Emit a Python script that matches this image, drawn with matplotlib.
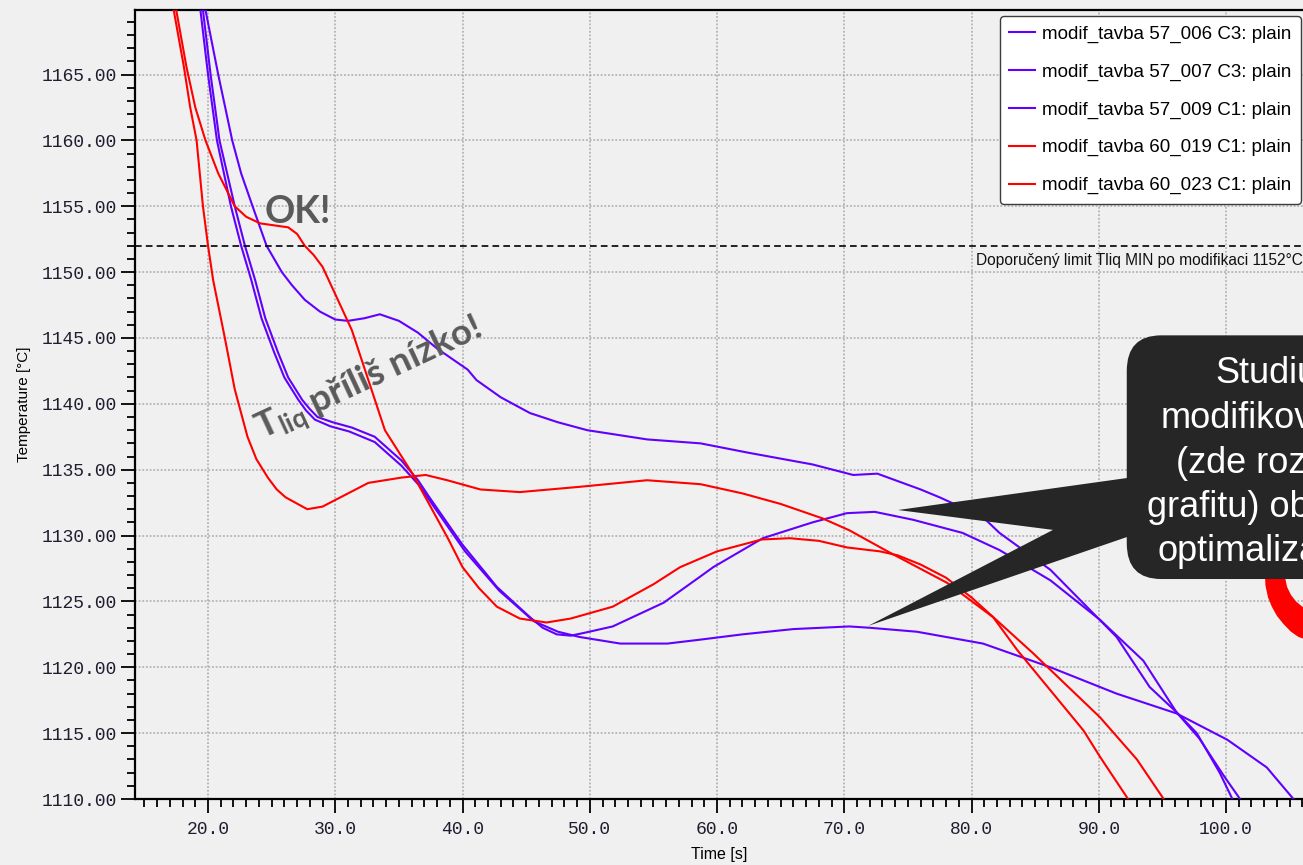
import matplotlib
matplotlib.use("Agg")
import matplotlib.pyplot as plt
from matplotlib.patches import FancyBboxPatch, Polygon
from matplotlib.ticker import MultipleLocator, FormatStrFormatter

# --- data (time [s], temperature [degC]) ---
labels = [
    "modif_tavba 57_006 C3: plain",
    "modif_tavba 57_007 C3: plain",
    "modif_tavba 57_009 C1: plain",
    "modif_tavba 60_019 C1: plain",
    "modif_tavba 60_023 C1: plain",
]
colors = ["#6000ff", "#6000ff", "#6000ff", "#ff0000", "#ff0000"]

t_a = [19.5, 19.8, 20.8, 21.9, 22.6, 23.5, 24.6, 25.8, 26.6, 27.6, 28.8, 30.0,
       31.0, 32.3, 33.5, 35.0, 36.5, 38.0, 40.4, 41.1, 43.0, 45.3, 47.5, 49.8,
       54.5, 58.7, 62.4, 67.5, 70.7, 72.6, 76.0, 77.5, 80.9, 82.2, 86.2, 91.4,
       94.0, 96.1, 97.7, 99.5, 100.5, 101.3]
T_a = [1171.4, 1169.9, 1165.0, 1160.0, 1157.5, 1155.0, 1152.0, 1150.0, 1149.0,
       1147.9, 1147.0, 1146.4, 1146.3, 1146.5, 1146.8, 1146.3, 1145.4, 1144.2,
       1142.6, 1141.8, 1140.5, 1139.3, 1138.6, 1138.0, 1137.3, 1137.0, 1136.3,
       1135.4, 1134.6, 1134.7, 1133.5, 1132.9, 1131.4, 1130.2, 1127.4, 1122.3,
       1118.5, 1116.6, 1115.0, 1112.0, 1110.0, 1108.8]

t_b = [19.2, 19.6, 20.2, 20.9, 22.1, 22.9, 23.7, 24.5, 25.5, 26.3, 27.4, 28.0,
       28.6, 29.8, 31.3, 33.1, 35.2, 36.5, 37.4, 39.2, 40.0, 42.7, 45.3, 46.3,
       47.4, 48.5, 49.5, 51.8, 55.8, 58.7, 59.7, 63.6, 67.5, 70.2, 72.4, 75.4,
       79.3, 82.2, 86.2, 90.1, 93.5, 96.1, 97.9, 99.8, 101.1, 101.7]
T_b = [1171.5, 1169.9, 1165.0, 1160.0, 1155.0, 1152.0, 1149.4, 1146.5, 1143.9,
       1142.0, 1140.3, 1139.6, 1139.0, 1138.6, 1138.2, 1137.5, 1135.7, 1134.2,
       1132.9, 1130.4, 1129.3, 1126.1, 1123.8, 1123.0, 1122.5, 1122.4, 1122.6,
       1123.1, 1124.9, 1126.9, 1127.6, 1129.8, 1131.0, 1131.7, 1131.8, 1131.2,
       1130.2, 1128.9, 1126.6, 1123.6, 1120.5, 1116.6, 1114.6, 1111.8, 1110.0,
       1108.8]

t_c = [19.0, 19.4, 20.0, 20.7, 21.8, 22.6, 23.4, 24.2, 25.2, 26.0, 27.1, 27.7,
       28.4, 29.6, 31.1, 33.1, 35.2, 36.6, 37.6, 40.2, 42.9, 45.6, 47.5, 49.2,
       52.4, 56.1, 58.7, 62.0, 66.0, 70.4, 72.0, 75.7, 80.9, 86.2, 91.4, 96.1,
       100.1, 103.2, 105.3, 106.2]
T_c = [1171.5, 1169.9, 1165.0, 1160.0, 1155.0, 1152.0, 1149.4, 1146.5, 1143.9,
       1142.0, 1140.3, 1139.5, 1138.8, 1138.3, 1137.9, 1137.1, 1135.3, 1133.8,
       1132.4, 1128.8, 1125.8, 1123.5, 1122.7, 1122.3, 1121.8, 1121.8, 1122.1,
       1122.5, 1122.9, 1123.1, 1123.0, 1122.7, 1121.8, 1120.0, 1118.0, 1116.5,
       1114.5, 1112.4, 1110.0, 1108.8]

t_d = [16.9, 17.3, 18.1, 18.6, 19.1, 19.6, 20.0, 20.4, 21.3, 22.1, 23.1, 23.8,
       24.7, 25.4, 26.1, 27.8, 29.0, 30.0, 32.6, 35.2, 37.1, 38.8, 41.4, 44.5,
       49.2, 54.5, 58.7, 62.0, 65.0, 68.3, 70.4, 73.4, 78.1, 81.7, 83.6, 88.8,
       90.1, 92.3, 93.0]
T_d = [1172.0, 1169.9, 1165.6, 1162.5, 1160.0, 1155.0, 1152.0, 1149.4, 1145.1,
       1141.1, 1137.5, 1135.8, 1134.4, 1133.5, 1132.9, 1132.0, 1132.2, 1132.7,
       1134.0, 1134.4, 1134.6, 1134.2, 1133.5, 1133.3, 1133.7, 1134.2, 1133.9,
       1133.2, 1132.4, 1131.3, 1130.4, 1128.8, 1126.4, 1123.8, 1121.3, 1115.2,
       1113.2, 1110.0, 1109.0]

t_e = [17.1, 17.5, 18.3, 19.0, 19.8, 20.8, 22.1, 23.0, 24.1, 25.2, 26.3, 27.0,
       27.6, 28.3, 29.0, 30.2, 31.3, 32.6, 33.9, 36.0, 37.2, 38.9, 40.0, 41.3,
       42.7, 44.5, 46.6, 48.5, 51.8, 55.0, 57.1, 60.0, 63.5, 65.7, 68.0, 70.2,
       72.8, 74.2, 76.0, 78.0, 80.0, 84.8, 90.1, 93.0, 95.1, 95.8]
T_e = [1172.0, 1169.9, 1165.6, 1162.5, 1160.0, 1157.5, 1155.0, 1154.2, 1153.7,
       1153.55, 1153.4, 1152.9, 1152.0, 1151.3, 1150.4, 1147.9, 1145.6, 1141.8,
       1138.0, 1134.8, 1132.7, 1129.7, 1127.6, 1126.0, 1124.6, 1123.7, 1123.4,
       1123.7, 1124.6, 1126.3, 1127.6, 1128.8, 1129.7, 1129.8, 1129.6, 1129.1,
       1128.8, 1128.5, 1127.8, 1126.8, 1125.3, 1121.1, 1116.2, 1113.0, 1110.0,
       1109.0]

series_t = [t_a, t_b, t_c, t_d, t_e]
series_T = [T_a, T_b, T_c, T_d, T_e]

limit_T = 1152.0
limit_label = "Doporučený limit Tliq MIN po modifikaci 1152°C"
callout_lines = ["Studium", "modifikovaných", "(zde rozdílné",
                 "grafitu) obecně", "optimalizace"]

BG = "#f0f0f0"
GREY_TXT = "#5a5a5a"

fig = plt.figure(figsize=(13.03, 8.65), dpi=100, facecolor=BG)
ax = fig.add_axes([135 / 1303, 66 / 865, 1168 / 1303, 789 / 865], facecolor=BG)

for t, T, c, lab in zip(series_t, series_T, colors, labels):
    ax.plot(t, T, color=c, lw=1.5, label=lab, zorder=3, solid_joinstyle="round")

ax.set_xlim(14.26, 106.05)
ax.set_ylim(1110.0, 1169.9)

ax.axhline(limit_T, color="black", lw=1.2, ls=(0, (4, 2.5)), zorder=4)
ax.text(1.0, limit_T - 0.55, limit_label, transform=ax.get_yaxis_transform(),
        ha="right", va="top", fontsize=11.2, family="Liberation Sans",
        color="#111111", zorder=5)

# axes, ticks, grid
ax.xaxis.set_major_locator(MultipleLocator(10))
ax.xaxis.set_minor_locator(MultipleLocator(1))
ax.yaxis.set_major_locator(MultipleLocator(5))
ax.yaxis.set_minor_locator(MultipleLocator(1))
ax.xaxis.set_major_formatter(FormatStrFormatter("%.1f"))
ax.yaxis.set_major_formatter(FormatStrFormatter("%.2f"))
ax.tick_params(which="major", direction="out", length=10, width=1.3,
               labelsize=13, pad=3, colors="black", labelcolor="#1e1e30")
ax.tick_params(axis="x", which="major", pad=6)
ax.tick_params(which="minor", direction="out", length=5.5, width=1.3)
for lab in ax.get_xticklabels() + ax.get_yticklabels():
    lab.set_family("Liberation Mono")
ax.grid(True, which="major", color="#aaaaaa", ls=(0, (1.2, 1.2)), lw=1.1, zorder=1)
for s in ("left", "bottom", "top"):
    ax.spines[s].set_linewidth(1.6)
ax.spines["right"].set_visible(False)

ax.set_xlabel("Time [s]", fontsize=11.5, family="Liberation Sans", labelpad=6)
ax.set_ylabel("Temperature [°C]", fontsize=11, family="Liberation Sans", labelpad=8)

leg = ax.legend(loc="upper right", bbox_to_anchor=(0.9983, 0.9924),
                borderaxespad=0, handlelength=1.35,
                handletextpad=0.4, labelspacing=1.1, borderpad=0.5,
                fancybox=True, framealpha=1, facecolor="white",
                edgecolor="#3c3c3c", prop={"family": "Liberation Sans", "size": 13.5})
leg.get_frame().set_linewidth(1.0)
leg.set_zorder(6)

# annotations
ax.text(24.48, 1153.74, "OK!", fontsize=27, family="Lato", weight="bold",
        color=GREY_TXT, ha="left", va="baseline", zorder=5)
ax.text(24.2, 1137.3, r"T$_{\mathregular{liq}}$ příliš nízko!", fontsize=26.5,
        family="Lato", weight="bold", color=GREY_TXT, rotation=25,
        rotation_mode="anchor", ha="left", va="baseline", zorder=5)

# red curved arrow fragment under the callout
ax.add_patch(Polygon([(103.06, 1127.0), (103.1, 1126.2), (103.3, 1125.3),
                      (103.6, 1124.6), (104.0, 1123.9), (104.5, 1123.3),
                      (105.1, 1122.7), (105.7, 1122.3), (106.6, 1122.0),
                      (106.6, 1124.3), (106.0, 1124.6), (105.5, 1125.0),
                      (105.1, 1125.5), (104.8, 1126.1), (104.6, 1127.0)],
                     closed=True, fc="#ff0000", ec="none",
                     zorder=6, clip_on=False))

# dark callout box with two pointers
dark = "#262626"
ax.add_patch(FancyBboxPatch((92.2, 1126.7), 40, 18.5,
                            boxstyle="round,pad=0,rounding_size=2.7",
                            fc=dark, ec="none", zorder=7, clip_on=False))
ax.add_patch(Polygon([(94.0, 1134.37), (92.22, 1134.37), (74.22, 1131.94),
                      (86.40, 1130.43), (71.87, 1123.14), (92.22, 1129.89),
                      (94.0, 1129.89)], closed=True, fc=dark, ec="none", zorder=7))
line_x = [99.13, 94.89, 96.07, 93.79, 94.58]
line_y = [1141.59, 1138.17, 1134.75, 1131.41, 1128.07]
for lx, ly, txt in zip(line_x, line_y, callout_lines):
    ax.text(lx, ly, txt, fontsize=26, family="Liberation Sans", color="white",
            ha="left", va="baseline", zorder=8)

fig.savefig("out.png", dpi=100, facecolor=BG)
